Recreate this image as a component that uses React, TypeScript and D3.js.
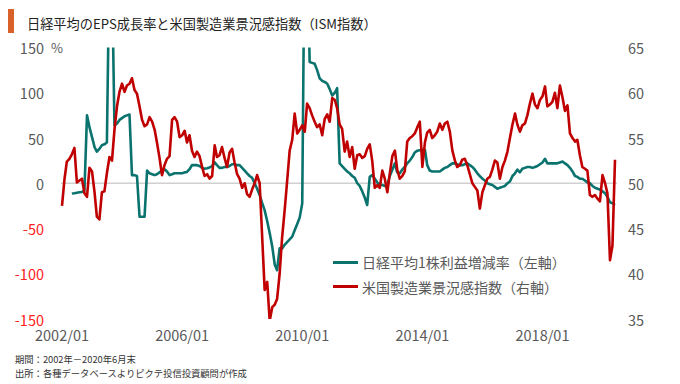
import React from "react";
import * as d3 from "d3";

// ---- data ----
const startMonth = new Date(2002, 0, 1);
const endMonth = new Date(2020, 5, 1);
const months: Date[] = d3.timeMonth.range(startMonth, new Date(2020, 6, 1));

// ISM manufacturing index (right axis)
const ismValues: number[] = [
  // 2002
  47.5, 50.5, 52.4, 52.7, 53.2, 53.9, 50.1, 50.3, 50.5, 48.9, 48.5, 51.7,
  // 2003
  51.3, 49.0, 46.3, 46.0, 49.0, 49.1, 51.1, 52.9, 52.5, 55.9, 58.5, 60.1,
  // 2004
  61.0, 60.1, 60.8, 61.0, 61.6, 60.3, 59.9, 58.5, 57.0, 56.3, 56.5, 57.3,
  // 2005
  56.8, 55.9, 54.5, 52.8, 50.9, 52.0, 52.7, 53.0, 57.0, 57.3, 56.8, 55.1,
  // 2006
  55.3, 55.8, 54.5, 55.3, 53.6, 52.9, 53.5, 53.0, 51.8, 50.8, 51.0, 50.5,
  // 2007
  50.8, 54.2, 52.9, 53.1, 54.0, 52.8, 51.8, 53.4, 53.8, 52.3, 51.0, 50.5,
  // 2008
  49.5, 50.0, 48.8, 48.5, 49.3, 50.0, 50.9, 50.0, 44.0, 38.2, 39.1, 34.8,
  // 2009
  36.3, 36.6, 37.2, 40.0, 44.0, 47.0, 50.2, 53.6, 54.8, 57.7, 55.5, 55.9,
  // 2010
  56.4, 55.7, 58.8, 58.3, 57.5, 56.8, 56.2, 56.5, 55.3, 57.1, 57.6, 56.8,
  // 2011
  59.4, 59.2, 58.3, 56.5, 56.0, 53.5, 54.6, 52.9, 54.0, 51.6, 53.1, 53.2,
  // 2012
  52.8, 53.0, 53.8, 54.3, 52.5, 49.5, 49.8, 49.5, 51.4, 50.5, 49.0, 51.1,
  // 2013
  53.0, 53.6, 51.5, 50.5, 50.8, 51.3, 54.6, 55.0, 55.2, 55.5, 56.2, 56.8,
  // 2014
  51.8, 54.5, 55.6, 55.9, 55.0, 55.3, 55.7, 56.6, 55.9, 56.6, 56.8, 55.7,
  // 2015
  53.6, 52.5, 51.8, 52.0, 52.6, 52.7, 52.0, 51.0, 50.0, 49.6, 49.2, 47.2,
  // 2016
  49.0, 49.8, 50.5, 50.7, 51.5, 52.5, 52.3, 50.5, 51.8, 52.5, 53.5, 55.0,
  // 2017
  56.5, 57.7, 56.5, 55.7, 56.4, 56.6, 57.5, 58.8, 59.9, 58.7, 58.3, 59.2,
  // 2018
  59.6, 60.7, 58.5, 58.7, 59.0, 60.0, 58.3, 60.8, 59.5, 58.0, 58.6, 55.5,
  // 2019
  55.0, 54.6, 54.8, 53.1, 51.8, 51.6, 51.4, 48.7, 48.5, 48.7, 48.3, 48.0,
  // 2020
  50.9, 50.0, 48.9, 41.5, 43.1, 52.6,
];

// Nikkei 225 EPS growth, % (left axis)
const epsValues: (number | null)[] = [
  // 2002
  null, null, null, null, -11.4, -11, -10.5, -10, -9.6, -8, 75, 62,
  // 2003
  51, 40, 35, 38, 42, 43, 45, 250, 230, 64, 66, 70,
  // 2004
  72, 74, 75, 76, 9, 9, 8, -37, -37, -37, 14, 11,
  // 2005
  10, 9, 10, 12, 14, 15.5, 13, 9, 10, 11, 11, 11,
  // 2006
  11, 12, 12.5, 15.5, 20, 20, 20, 19, 17, 16, 16.5, 17.5,
  // 2007
  19, 23, 20, 17, 17, 18, 18, 19, 21, 21, 20, 20,
  // 2008
  17, 14, 11, 8, 6, 0, -6, -13, -22, -30, -42, -55,
  // 2009
  -70, -90, -96, -72, -72, -68, -65, -62, -59, -52, -45, -38,
  // 2010
  -22, 300, 280, 134, 133, 132, 125, 116, 113, 112, 110, 104,
  // 2011
  97, 100, 105, 22, 19, 16, 13, 11, 8, 6, 0, -3,
  // 2012
  -9, -16, -24, 7, 9, 5, 1, -2, -2, -3, -2, 8,
  // 2013
  15, 22, 12, 11, 15, 18, 22, 25, 29, 34, 36, 36.5,
  // 2014
  37, 37, 20, 14, 13, 13, 13, 13, 15, 17, 18, 20,
  // 2015
  22, 22, 21, 20, 20, 21, 22, 20, 18, 15, 11, 8,
  // 2016
  5, 3, 0, -1, -2, -4, -6, -5, -4, -3, 0, 2,
  // 2017
  8, 11, 15, 12, 16, 17, 18, 18, 17, 18, 19, 21,
  // 2018
  23, 27, 22, 22, 22, 22, 22, 23, 24, 22, 20, 17,
  // 2019
  13, 8, 7, 5, 5, 3, 1, 0, -3, -5, -6, -7,
  // 2020
  -9, -11, -15, -21, -22, -24,
];

const leftTicks = [150, 100, 50, 0, -50, -100, -150];
const rightTicks = [65, 60, 55, 50, 45, 40, 35];
const xTickLabels = ["2002/01", "2006/01", "2010/01", "2014/01", "2018/01"];
const xTickDates = [
  new Date(2002, 0, 1),
  new Date(2006, 0, 1),
  new Date(2010, 0, 1),
  new Date(2014, 0, 1),
  new Date(2018, 0, 1),
];

const titleText = "日経平均のEPS成長率と米国製造業景況感指数（ISM指数）";
const legendEps = "日経平均1株利益増減率（左軸）";
const legendIsm = "米国製造業景況感指数（右軸）";
const note1 = "期間：2002年－2020年6月末";
const note2 = "出所：各種データベースよりピクテ投信投資顧問が作成";

// ---- styles ----
const FONT = "'Noto Sans CJK JP', 'Noto Sans', sans-serif";
const TEAL = "#0a736e";
const RED = "#c00000";
const GRAY = "#595959";
const NEG = "#ff2020";

export default function App() {
  const W = 680;
  const H = 384;
  const plotTop = 47.5;
  const plotBottom = 319;

  const x = d3.scaleTime().domain([startMonth, endMonth]).range([62, 615]);
  const yL = d3.scaleLinear().domain([-150, 150]).range([plotBottom, plotTop]);
  const yR = d3.scaleLinear().domain([35, 65]).range([plotBottom, plotTop]);

  const epsLine = d3
    .line<number>()
    .defined((_, i) => epsValues[i] !== null)
    .x((_, i) => x(months[i]))
    .y((_, i) => yL(epsValues[i] as number));
  const ismLine = d3
    .line<number>()
    .x((_, i) => x(months[i]))
    .y((d) => yR(d));

  const epsPath = epsLine(epsValues.map((v) => (v === null ? 0 : v))) || "";
  const ismPath = ismLine(ismValues) || "";

  return (
    <svg
      width={W}
      height={H}
      style={{ position: "absolute", left: 0, top: 0, background: "#fff" }}
      fontFamily={FONT}
    >
      <defs>
        <clipPath id="plotClip">
          <rect x={0} y={plotTop} width={W} height={plotBottom - plotTop} />
        </clipPath>
      </defs>
      <rect x={0} y={0} width={W} height={H} fill="#fff" />

      {/* title */}
      <rect x={8} y={9} width={6} height={24} fill="#d9612a" />
      <text x={27} y={23} fontSize={13.2} fill="#222" dominantBaseline="central">
        {titleText}
      </text>

      {/* zero line */}
      <line
        x1={61}
        x2={617}
        y1={yL(0)}
        y2={yL(0)}
        stroke="#d0d0d0"
        strokeWidth={1.5}
      />

      {/* left axis labels */}
      {leftTicks.map((t) => (
        <text
          key={"l" + t}
          x={44}
          y={yL(t)}
          textAnchor="end"
          dominantBaseline="central"
          fontSize={14.5}
          fill={t < 0 ? NEG : GRAY}
        >
          {t < 0 ? "-" + Math.abs(t) : String(t)}
        </text>
      ))}
      <text x={51} y={yL(150)} dominantBaseline="central" fontSize={13} fill={GRAY}>
        %
      </text>

      {/* right axis labels */}
      {rightTicks.map((t) => (
        <text
          key={"r" + t}
          x={628}
          y={yR(t)}
          dominantBaseline="central"
          fontSize={14.5}
          fill={GRAY}
        >
          {t}
        </text>
      ))}

      {/* x labels */}
      {xTickLabels.map((lab, i) => (
        <text
          key={lab}
          x={x(xTickDates[i])}
          y={334}
          textAnchor="middle"
          dominantBaseline="central"
          fontSize={14.5}
          fill={GRAY}
        >
          {lab}
        </text>
      ))}

      {/* series */}
      <g clipPath="url(#plotClip)">
        <path d={epsPath} fill="none" stroke={TEAL} strokeWidth={2.6} strokeLinejoin="round" />
        <path d={ismPath} fill="none" stroke={RED} strokeWidth={2.6} strokeLinejoin="round" />
      </g>

      {/* legend */}
      <line x1={333} x2={358} y1={262.5} y2={262.5} stroke={TEAL} strokeWidth={3} />
      <text x={362} y={262} dominantBaseline="central" fontSize={14} fill={GRAY}>
        {legendEps}
      </text>
      <line x1={333} x2={358} y1={286.5} y2={286.5} stroke={RED} strokeWidth={3} />
      <text x={362} y={287} dominantBaseline="central" fontSize={14} fill={GRAY}>
        {legendIsm}
      </text>

      {/* notes */}
      <text x={15} y={359} dominantBaseline="central" fontSize={9.3} fill="#333">
        {note1}
      </text>
      <text x={15} y={373} dominantBaseline="central" fontSize={9.3} fill="#333">
        {note2}
      </text>
    </svg>
  );
}
